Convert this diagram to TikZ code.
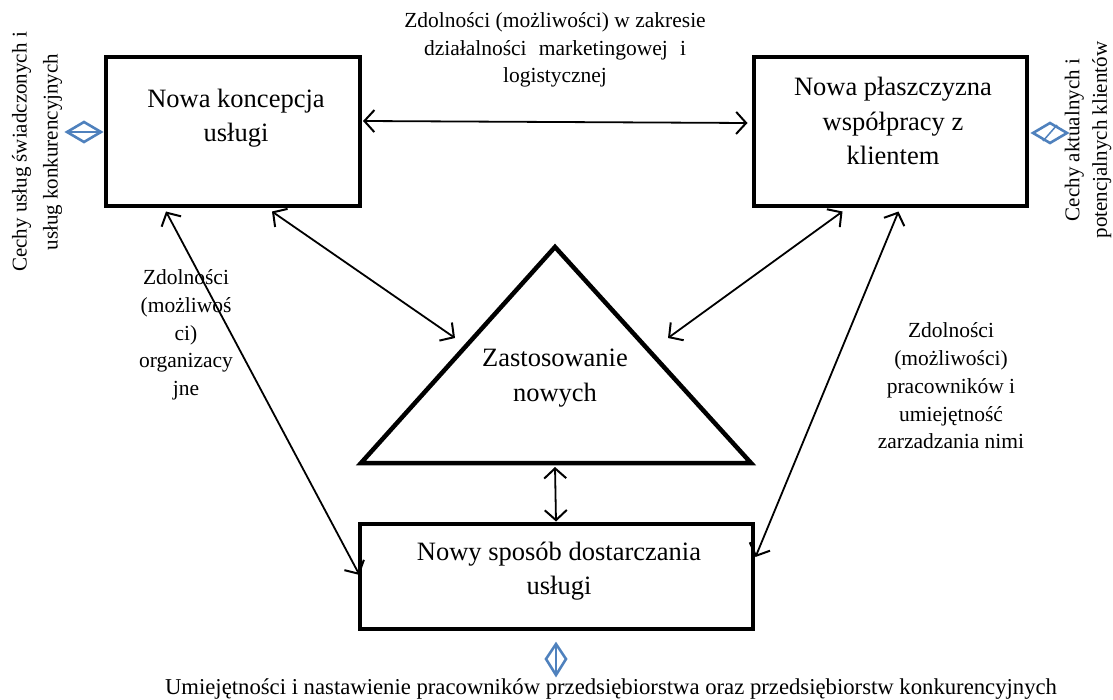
\documentclass[tikz,border=0pt]{standalone}
\usepackage{fontspec}
\setmainfont{Liberation Serif}
\usetikzlibrary{arrows.meta,calc}
\definecolor{dblue}{HTML}{4F81BD}
\begin{document}
\begin{tikzpicture}[x=1pt,y=-1pt,
  box/.style={draw, line width=4pt, inner sep=0pt},
  conn/.style={line width=1.8pt, {Straight Barb[length=10pt,width=22pt,line width=2pt]}-{Straight Barb[length=10pt,width=22pt,line width=2pt]}},
  lbl/.style={font=\fontsize{21.5}{27.8}\selectfont, align=center, inner sep=0pt},
  vlbl/.style={font=\fontsize{21}{31}\selectfont, align=center, inner sep=0pt, rotate=90},
  big/.style={font=\fontsize{26.5}{34.5}\selectfont, align=center, inner sep=0pt},
  dia/.style={draw=dblue, line width=2.6pt, line join=miter}
]
\useasboundingbox (0,0) rectangle (1113,700);

% boxes
\node[box, minimum width=254pt, minimum height=149pt] (b1) at (233,132) {};
\node[box, minimum width=273pt, minimum height=149pt] (b2) at (890,132) {};
\node[box, minimum width=393pt, minimum height=105pt] (b3) at (556,576) {};

\node[big] (t1) at (236,118) {Nowa koncepcja\\usługi};
\node[big] (t2) at (893,121) {Nowa płaszczyzna\\współpracy z\\klientem};
\node[big] (t3) at (559,571) {Nowy sposób dostarczania\\usługi};

% triangle
\coordinate (ta) at (555,247);
\coordinate (tl) at (361,463);
\coordinate (tr) at (751,463);
\draw[line width=4.5pt, line join=miter] (ta) -- (tl) -- (tr) -- cycle;
\node[big] (tt) at (555,378) {Zastosowanie\\nowych};
\coordinate (tb) at (555,467);

% connectors
\draw[conn] ($(b1.east)+(1,-11)$) -- ($(b2.west)+(-4,-9)$);
\draw[conn] ($(b1.south west)+(168,3)$) -- (455,338);
\draw[conn] ($(b2.south west)+(91,3)$) -- (668,338);
\draw[conn] ($(b1.south west)+(62,3)$) -- ($(b3.west)+(2,-1)$);
\draw[conn] ($(b2.south west)+(147,3)$) -- ($(b3.east)+(1,-19)$);
\draw[conn] (tb) -- (b3.north);

% labels
\node[lbl] (l1) at (555,50) {Zdolności (możliwości) w zakresie\\\makebox[262pt][s]{działalności marketingowej i}\\logistycznej};
\node[lbl] (l2) at (186,335) {Zdolności\\(możliwoś\\ci)\\organizacy\\jne};
\node[lbl] (l3) at (951,386) {Zdolności\\(możliwości)\\pracowników i\\umiejętność\\zarzadzania nimi};
\node[lbl, font=\fontsize{22.7}{27.8}\selectfont] (l4) at (611,689) {Umiejętności i nastawienie pracowników przedsiębiorstwa oraz przedsiębiorstw konkurencyjnych};
\node[vlbl] (l5) at (37,152) {Cechy usług świadczonych i\\usług konkurencyjnych};
\node[vlbl, font=\fontsize{21}{27.5}\selectfont] (l6) at (1088,140) {Cechy aktualnych i\\potencjalnych klientów};

% blue diamonds
\draw[dia] (67,132) -- (84,122) -- (101,132) -- (84,142) -- cycle;
\draw[draw=dblue, line width=1.5pt] (67,132) -- (101,132);
\draw[dia] (1033,133) -- (1050,123) -- (1067,133) -- (1050,143) -- cycle;
\draw[draw=dblue, line width=1.5pt] (1043,141) -- (1057,125);
\draw[dia] (556,644) -- (566,659) -- (556,675) -- (546,659) -- cycle;
\draw[draw=dblue, line width=1.5pt] (556,644) -- (556,675);
\end{tikzpicture}
\end{document}
